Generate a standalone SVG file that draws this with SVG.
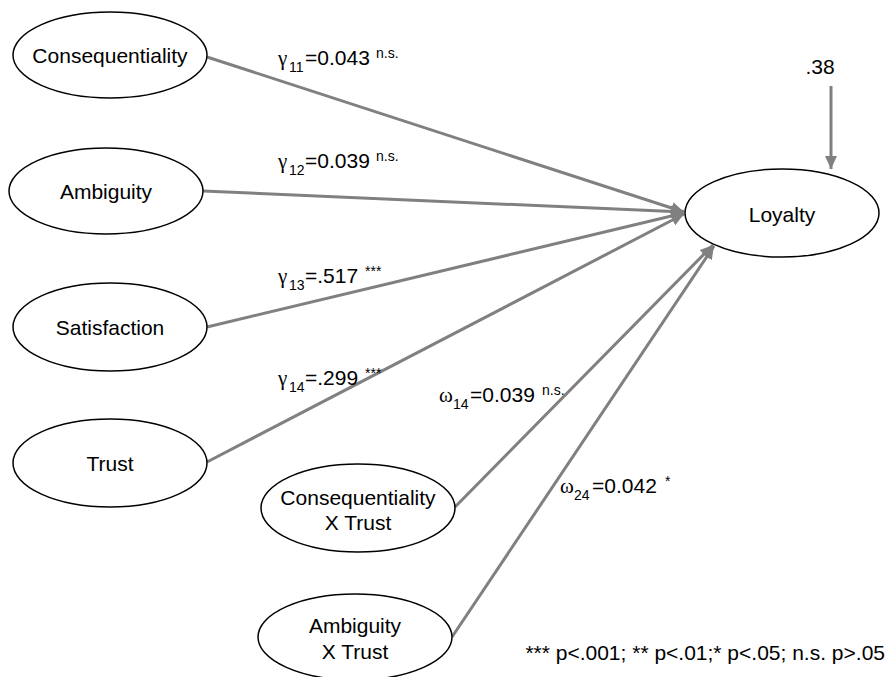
<svg xmlns="http://www.w3.org/2000/svg" width="887" height="677" viewBox="0 0 887 677">
<style>
.node{fill:#fff;stroke:#000;stroke-width:1.5}
.lbl{font-family:"Liberation Sans",Arial,sans-serif;font-size:21px;fill:#000}
.nt{text-anchor:middle}
.gk{font-family:"Liberation Serif","Times New Roman",serif;font-size:21px}
.sm{font-size:14px}
.conn line{stroke:#808080;stroke-width:3;fill:none;marker-end:url(#ah)}
</style>
<defs>
<marker id="ah" markerUnits="userSpaceOnUse" markerWidth="14" markerHeight="13" refX="13" refY="6" orient="auto">
<path d="M0,0 L13,6 L0,12 z" fill="#808080"/>
</marker>
</defs>
<rect width="887" height="677" fill="#fff"/>
<g id="connectors" class="conn">
<line x1="207" y1="57" x2="684" y2="212"/>
<line x1="203" y1="191" x2="684" y2="212"/>
<line x1="207" y1="327" x2="684" y2="213"/>
<line x1="207" y1="462" x2="684" y2="214"/>
<line x1="455" y1="507" x2="713" y2="245"/>
<line x1="452" y1="637" x2="714" y2="246"/>
<line x1="831" y1="86" x2="831" y2="169"/>
</g>
<g id="node-consequentiality">
<ellipse class="node" cx="110" cy="55" rx="97" ry="43"/>
<text class="lbl nt" x="110" y="63">Consequentiality</text>
</g>
<g id="node-ambiguity">
<ellipse class="node" cx="106" cy="191" rx="97" ry="43"/>
<text class="lbl nt" x="106" y="199">Ambiguity</text>
</g>
<g id="node-satisfaction">
<ellipse class="node" cx="110" cy="327" rx="97" ry="44"/>
<text class="lbl nt" x="110" y="335">Satisfaction</text>
</g>
<g id="node-trust">
<ellipse class="node" cx="110" cy="463" rx="97" ry="44"/>
<text class="lbl nt" x="110" y="471">Trust</text>
</g>
<g id="node-cxt">
<ellipse class="node" cx="358" cy="508" rx="97" ry="44"/>
<text class="lbl nt" x="358" y="505">Consequentiality</text>
<text class="lbl nt" x="358" y="530">X Trust</text>
</g>
<g id="node-axt">
<ellipse class="node" cx="355" cy="637" rx="97" ry="43"/>
<text class="lbl nt" x="355" y="633">Ambiguity</text>
<text class="lbl nt" x="355" y="659">X Trust</text>
</g>
<g id="node-loyalty">
<ellipse class="node" cx="782" cy="213" rx="97" ry="44"/>
<text class="lbl nt" x="782" y="222">Loyalty</text>
</g>
<g id="labels">
<text class="lbl" x="820" y="74" text-anchor="middle">.38</text>
<text class="lbl"><tspan class="gk" x="278" y="65">γ</tspan><tspan class="sm" x="289" y="72">11</tspan><tspan x="305" y="65">=0.043</tspan><tspan class="sm" x="376" y="58">n.s.</tspan></text>
<text class="lbl"><tspan class="gk" x="278" y="168">γ</tspan><tspan class="sm" x="289" y="175">12</tspan><tspan x="305" y="168">=0.039</tspan><tspan class="sm" x="376" y="161">n.s.</tspan></text>
<text class="lbl"><tspan class="gk" x="278" y="283">γ</tspan><tspan class="sm" x="289" y="290">13</tspan><tspan x="305" y="283">=.517</tspan><tspan class="sm" x="365" y="276">***</tspan></text>
<text class="lbl"><tspan class="gk" x="278" y="385">γ</tspan><tspan class="sm" x="289" y="392">14</tspan><tspan x="305" y="385">=.299</tspan><tspan class="sm" x="365" y="378">***</tspan></text>
<text class="lbl"><tspan class="gk" x="439" y="402">ω</tspan><tspan class="sm" x="453" y="409">14</tspan><tspan x="470" y="402">=0.039</tspan><tspan class="sm" x="542" y="395">n.s.</tspan></text>
<text class="lbl"><tspan class="gk" x="560" y="493">ω</tspan><tspan class="sm" x="574" y="500">24</tspan><tspan x="592" y="493">=0.042</tspan><tspan class="sm" x="665" y="486">*</tspan></text>
<text class="lbl" x="885" y="660" text-anchor="end">*** p&lt;.001; ** p&lt;.01;* p&lt;.05; n.s. p&gt;.05</text>
</g>
</svg>
